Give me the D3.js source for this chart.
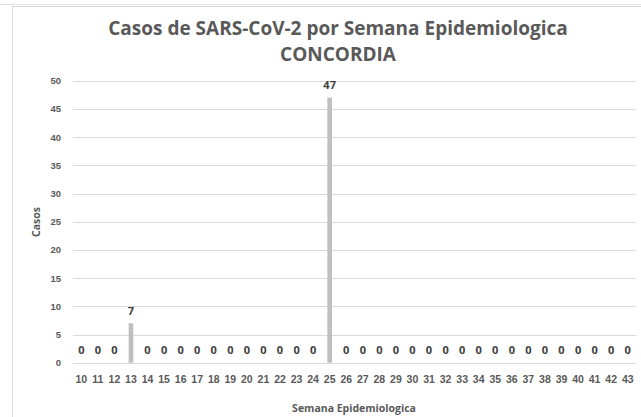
<!DOCTYPE html>
<html>
<head>
<meta charset="utf-8">
<script src="https://cdn.jsdelivr.net/npm/d3@7"></script>
<style>
    body { margin: 0; background: #fff; }
    svg { display: block; font-family: "Open Sans", sans-serif; }
    .tick-label { fill: #595959; font-weight: bold; font-size: 9.5px; }
    .x-tick .tick-label { font-size: 10.5px; }
    .data-label { fill: #404040; font-weight: bold; font-size: 11px; }
    .chart-title { fill: #595959; font-weight: bold; font-size: 19px; }
    .axis-label { fill: #595959; font-weight: bold; font-size: 10.5px; }
</style>
</head>
<body>
<script>
// Chart data: epidemiological weeks and case counts
const weeks = ["10", "11", "12", "13", "14", "15", "16", "17", "18", "19", "20", "21", "22",
    "23", "24", "25", "26", "27", "28", "29", "30", "31", "32", "33", "34", "35", "36",
    "37", "38", "39", "40", "41", "42", "43"];
const cases = [0, 0, 0, 7, 0, 0, 0, 0, 0, 0, 0, 0, 0, 0, 0, 47, 0, 0, 0, 0, 0, 0, 0, 0,
    0, 0, 0, 0, 0, 0, 0, 0, 0, 0];
const yTicks = [0, 5, 10, 15, 20, 25, 30, 35, 40, 45, 50];

const width = 641;
const height = 417;
const margin = { top: 80.7, right: 5, bottom: 54.3, left: 73 };

const data = weeks.map((w, i) => ({ week: w, value: cases[i] }));

const svg = d3.select("body")
    .append("svg")
    .attr("width", width)
    .attr("height", height);

// Outer frame lines
svg.append("line")
    .attr("x1", 0).attr("x2", width)
    .attr("y1", 4.5).attr("y2", 4.5)
    .attr("stroke", "#e3e3e3");
svg.append("line")
    .attr("x1", 12).attr("x2", width)
    .attr("y1", 6.5).attr("y2", 6.5)
    .attr("stroke", "#d9d9d9");
svg.append("line")
    .attr("x1", 12.5).attr("x2", 12.5)
    .attr("y1", 6.5).attr("y2", height)
    .attr("stroke", "#d9d9d9");

// Scales
const xScale = d3.scaleBand()
    .domain(weeks)
    .range([margin.left, width - margin.right])
    .paddingInner(0.72)
    .paddingOuter(0.36);

const yScale = d3.scaleLinear()
    .domain([0, 50])
    .range([height - margin.bottom, margin.top]);

// Gridlines
svg.append("g")
    .selectAll("line")
    .data(yTicks)
    .join("line")
    .attr("x1", margin.left)
    .attr("x2", width - margin.right)
    .attr("y1", d => Math.round(yScale(d)) + 0.5)
    .attr("y2", d => Math.round(yScale(d)) + 0.5)
    .attr("stroke", "#d9d9d9");

// Y axis labels
const leftAxis = d3.axisLeft(yScale).tickValues(yTicks).tickSize(0).tickPadding(0);
svg.append("g")
    .attr("transform", `translate(${margin.left - 12}, 0)`)
    .call(leftAxis)
    .call(g => g.select(".domain").remove())
    .call(g => g.selectAll("text").attr("class", "tick-label").attr("font-family", null).attr("font-size", null).attr("fill", null));

// Bars
svg.append("g")
    .selectAll("rect")
    .data(data)
    .join("rect")
    .attr("x", d => xScale(d.week))
    .attr("y", d => yScale(d.value))
    .attr("width", xScale.bandwidth())
    .attr("height", d => yScale(0) - yScale(d.value))
    .attr("fill", "#bfbfbf");

// Data labels
svg.append("g")
    .selectAll("text")
    .data(data)
    .join("text")
    .attr("class", "data-label")
    .attr("x", d => xScale(d.week) + xScale.bandwidth() / 2)
    .attr("y", d => yScale(d.value) - 8.5)
    .attr("text-anchor", "middle")
    .text(d => d.value);

// X axis labels
const bottomAxis = d3.axisBottom(xScale).tickSize(0).tickPadding(13);
svg.append("g")
    .attr("class", "x-tick")
    .attr("transform", `translate(0, ${yScale(0)})`)
    .call(bottomAxis)
    .call(g => g.select(".domain").remove())
    .call(g => g.selectAll("text").attr("class", "tick-label").attr("font-family", null).attr("font-size", null).attr("fill", null));

// Title
const title = svg.append("text")
    .attr("class", "chart-title")
    .attr("text-anchor", "middle");
title.append("tspan").attr("x", 338).attr("y", 35).text("Casos de SARS-CoV-2 por Semana Epidemiologica");
title.append("tspan").attr("x", 338).attr("y", 61).text("CONCORDIA");

// Axis titles
svg.append("text")
    .attr("class", "axis-label")
    .attr("x", 354)
    .attr("y", 412)
    .attr("text-anchor", "middle")
    .text("Semana Epidemiologica");

svg.append("text")
    .attr("class", "axis-label")
    .attr("transform", "rotate(-90)")
    .attr("x", -222)
    .attr("y", 40)
    .attr("text-anchor", "middle")
    .text("Casos");
</script>
</body>
</html>
